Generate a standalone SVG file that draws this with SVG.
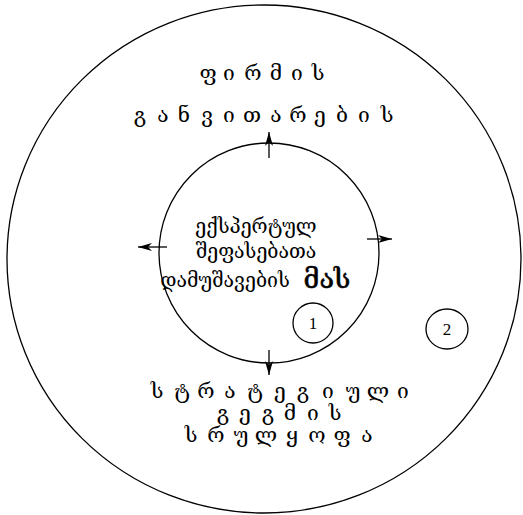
<svg xmlns="http://www.w3.org/2000/svg" width="523" height="515" viewBox="0 0 523 515">
<style>
.ln{fill:none;stroke:#000;stroke-width:1.3}
.g{font-family:"DejaVu Serif","Liberation Serif",serif;fill:#000;text-anchor:middle}
.sp{font-size:21px}
.in{font-size:19.5px}
.num{font-family:"Liberation Serif",serif;font-size:17px;fill:#000;text-anchor:middle}
</style>
<defs>
<marker id="ah" viewBox="0 0 14 8" refX="14" refY="4" markerWidth="14" markerHeight="8" markerUnits="userSpaceOnUse" orient="auto">
<path d="M0,0 L14,4 L0,8 L4,4 Z" fill="#000"/>
</marker>
</defs>
<g id="outer"><ellipse class="ln" cx="264" cy="259" rx="257" ry="254"/></g>
<g id="inner"><circle class="ln" cx="269" cy="253" r="110"/>
<text class="g in" x="256" y="233">ექსპერტულ</text>
<text class="g in" x="256" y="258">შეფასებათა</text>
<text class="g in" x="225" y="287">დამუშავების</text>
<text class="g" x="327" y="288" font-size="27px" stroke="#000" stroke-width="0.6">მას</text>
</g>
<g id="n1"><circle class="ln" cx="313" cy="323" r="20"/><text class="num" x="313" y="329">1</text></g>
<g id="n2"><ellipse class="ln" cx="447" cy="329" rx="21" ry="20"/><text class="num" x="447" y="335">2</text></g>
<g id="top">
<text class="g sp" x="208 229 253 276 297 318" y="80">ფირმის</text>
<text class="g sp" x="140 163 184 207 229 252 276 298 320 342 364 387" y="122">განვითარების</text>
</g>
<g id="bottom">
<text class="g sp" x="157 182 206 230 255 280 303 328 353 378 403" y="398">სტრატეგიული</text>
<text class="g sp" x="223 245 268 290 313 335" y="420">გეგმის</text>
<text class="g sp" x="191 216 241 266 292 317 342 367" y="442">სრულყოფა</text>
</g>
<g id="connectors">
<line class="ln" x1="269" y1="158" x2="269" y2="132" marker-end="url(#ah)"/>
<line class="ln" x1="367" y1="239" x2="392" y2="239" marker-end="url(#ah)"/>
<line class="ln" x1="167" y1="247" x2="138" y2="247" marker-end="url(#ah)"/>
<line class="ln" x1="269" y1="350" x2="269" y2="375" marker-end="url(#ah)"/>
</g>
</svg>
